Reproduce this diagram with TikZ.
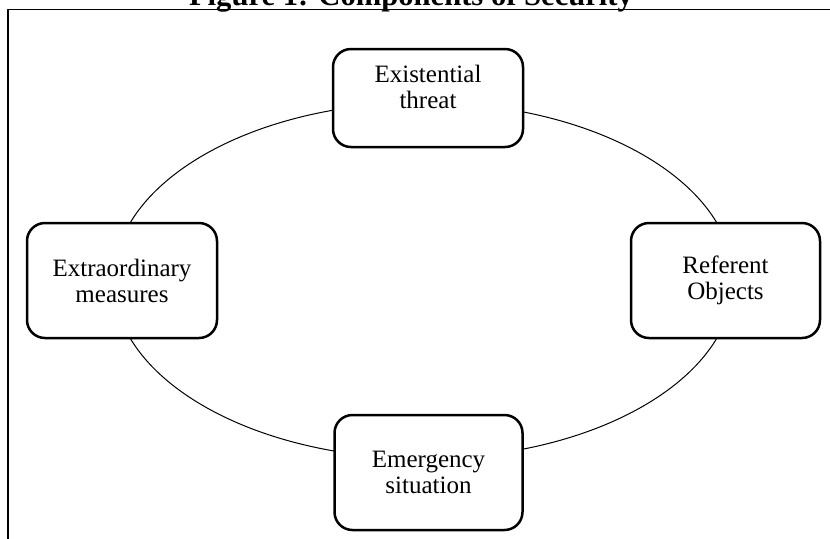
\documentclass[tikz,border=0pt]{standalone}
\usepackage{fontspec}
\setmainfont{Liberation Serif}
\begin{document}
\begin{tikzpicture}[x=0.5pt,y=-0.5pt, line join=round, font=\fontsize{12.5}{13}\selectfont,
	box/.style={draw, line width=1.25pt, rounded corners=9pt, fill=white, minimum width=95pt, minimum height=57.5pt, align=center, inner sep=0pt}]
	\useasboundingbox (0,0) rectangle (830,538);
	\path (423.5,280.5) coordinate (O);
	% the cycle behind the boxes
	\draw[line width=0.5pt] (O) ellipse [x radius=155pt, y radius=89pt];
	\node[box, minimum height=49pt] (threat) at (428,98) {};
	\node[align=center, inner sep=0pt] (threat-txt) at (428,87) {Existential\\threat};
	\node[box] (measures) at (122,280.5) {Extraordinary\\measures};
	\node[box, minimum width=94.5pt] (objects) at (725.5,280.5) {Referent\\Objects};
	\node[box, minimum width=94pt] (emergency) at (428.5,472.5) {Emergency\\situation};
	% frame and cut title
	\draw[line width=0.75pt] (8,545) -- (8,9.5) -- (840,9.5);
	\node[font=\bfseries\fontsize{15.3}{16}\selectfont, anchor=base, inner sep=0pt] (title) at (411,5) {Figure 1: Components of Security};
\end{tikzpicture}
\end{document}
